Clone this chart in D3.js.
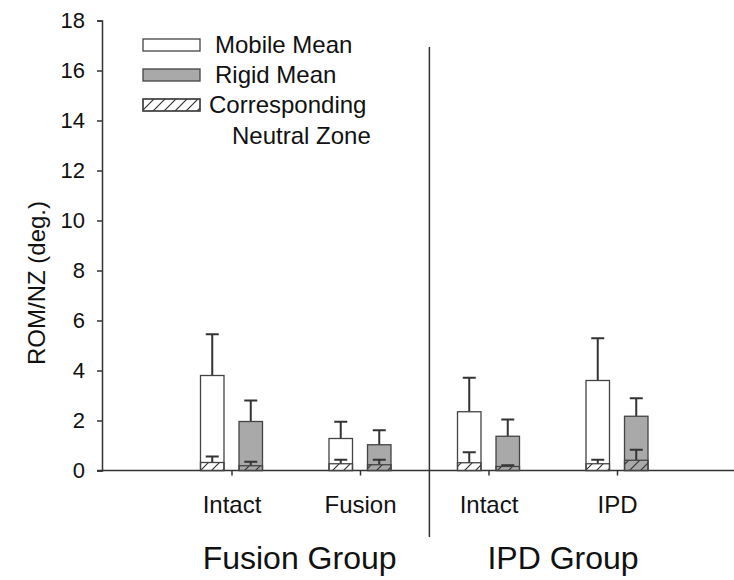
<!DOCTYPE html>
<html>
<head>
<meta charset="utf-8">
<script src="https://cdn.jsdelivr.net/npm/d3@7"></script>
<style>
  body { margin: 0; background: #fff; }
  text { font-family: "Liberation Sans", Arial, sans-serif; fill: #111; }
</style>
</head>
<body>
<svg width="734" height="580"></svg>
<script>
// Data
const categories = ["Intact", "Fusion", "Intact", "IPD"];
const groupNames = ["Fusion Group", "IPD Group"];
const mobileMean = [3.8, 1.28, 2.35, 3.6];
const mobileErr = [1.65, 0.67, 1.36, 1.69];
const rigidMean = [1.96, 1.03, 1.37, 2.17];
const rigidErr = [0.84, 0.58, 0.67, 0.72];
const mobileNZ = [0.32, 0.27, 0.31, 0.27];
const mobileNZErr = [0.24, 0.16, 0.42, 0.16];
const rigidNZ = [0.19, 0.23, 0.16, 0.41];
const rigidNZErr = [0.16, 0.2, 0.05, 0.42];
const yTicks = [0, 2, 4, 6, 8, 10, 12, 14, 16, 18];

const svg = d3.select("svg");

// Scales
const x = d3.scaleLinear().domain([0, 4]).range([103, 617]);
const y = d3.scaleLinear().domain([0, 18]).range([470.5, 20.5]);
const sub = d3.scaleBand().domain(["mobile", "rigid"]).range([-31, 31]).paddingInner(0.39);

const ink = "#333";

// hatch pattern for neutral zone
const defs = svg.append("defs");
const pat = defs.append("pattern")
  .attr("id", "hatch")
  .attr("patternUnits", "userSpaceOnUse")
  .attr("width", 11).attr("height", 11);
pat.append("path")
  .attr("d", "M-1,12 L12,-1 M-3,3 L3,-3 M8,14 L14,8")
  .attr("stroke", ink).attr("stroke-width", 1.2);

// Y axis
const yAxis = svg.append("g")
  .attr("transform", `translate(${x(0) - 1},0)`)
  .call(d3.axisLeft(y).tickValues(yTicks).tickSize(5).tickPadding(12));
yAxis.select(".domain").attr("stroke", ink).attr("stroke-width", 1.5);
yAxis.selectAll(".tick line").attr("stroke", ink).attr("stroke-width", 1.5);
yAxis.selectAll("text").style("font-size", "22px").attr("fill", "#111");

// X axis
const xAxis = svg.append("g")
  .attr("transform", `translate(0,${y(0)})`)
  .call(d3.axisBottom(x).tickValues([1, 2, 3, 4]).tickSize(5)
    .tickFormat(d => categories[d - 1]).tickPadding(20));
xAxis.select(".domain").attr("d", `M${x(0) - 6},0H734`)
  .attr("stroke", ink).attr("stroke-width", 1.5);
xAxis.selectAll(".tick line").attr("stroke", ink).attr("stroke-width", 1.5);
xAxis.selectAll("text").style("font-size", "24px").attr("fill", "#111");

// Divider line between groups
svg.append("line")
  .attr("x1", x(2.54)).attr("x2", x(2.54))
  .attr("y1", 47).attr("y2", 537)
  .attr("stroke", ink).attr("stroke-width", 1.5);

// Group labels
svg.selectAll(".group")
  .data(groupNames)
  .enter()
  .append("text")
  .attr("x", (d, i) => x(i === 0 ? 1.53 : 3.58))
  .attr("y", 569)
  .attr("text-anchor", "middle")
  .style("font-size", "32px")
  .text(d => d);

// Y label
svg.append("text")
  .attr("transform", `translate(45,283) rotate(-90)`)
  .attr("text-anchor", "middle")
  .style("font-size", "24px")
  .text("ROM/NZ (deg.)");

// Bars
const series = [
  { key: "mobile", mean: mobileMean, err: mobileErr, nz: mobileNZ, nzErr: mobileNZErr, fill: "#fff" },
  { key: "rigid", mean: rigidMean, err: rigidErr, nz: rigidNZ, nzErr: rigidNZErr, fill: "#a9a9a9" }
];

const capW = 13;

series.forEach(s => {
  const g = svg.append("g");
  categories.forEach((c, i) => {
    const x0 = x(i + 1) + sub(s.key);
    const w = sub.bandwidth();
    const cx = x0 + w / 2;

    // error bar on mean
    g.append("path")
      .attr("d", `M${cx},${y(s.mean[i])}V${y(s.mean[i] + s.err[i])}M${cx - capW / 2},${y(s.mean[i] + s.err[i])}h${capW}`)
      .attr("stroke", ink).attr("stroke-width", 2).attr("fill", "none");

    // mean bar
    g.append("rect")
      .attr("x", x0).attr("y", y(s.mean[i]))
      .attr("width", w).attr("height", y(0) - y(s.mean[i]))
      .attr("fill", s.fill).attr("stroke", "#444").attr("stroke-width", 1.3);

    // neutral zone error bar
    g.append("path")
      .attr("d", `M${cx},${y(s.nz[i])}V${y(s.nz[i] + s.nzErr[i])}M${cx - capW / 2},${y(s.nz[i] + s.nzErr[i])}h${capW}`)
      .attr("stroke", ink).attr("stroke-width", 2).attr("fill", "none");

    // neutral zone hatched
    g.append("rect")
      .attr("x", x0).attr("y", y(s.nz[i]))
      .attr("width", w).attr("height", y(0) - y(s.nz[i]))
      .attr("fill", "url(#hatch)").attr("stroke", "#444").attr("stroke-width", 1.3);
  });
});

// Legend
const legendItems = [
  { label: ["Mobile Mean"], fill: "#fff", hatch: false },
  { label: ["Rigid Mean"], fill: "#a9a9a9", hatch: false },
  { label: ["Corresponding", "Neutral Zone"], fill: "#fff", hatch: true }
];

const legend = svg.append("g").attr("transform", "translate(143,39)");
legendItems.forEach((d, i) => {
  const row = legend.append("g").attr("transform", `translate(0,${i * 30})`);
  row.append("rect")
    .attr("width", 57).attr("height", 12)
    .attr("fill", d.fill).attr("stroke", "#444").attr("stroke-width", 1.3);
  if (d.hatch) {
    row.append("rect")
      .attr("width", 57).attr("height", 12)
      .attr("fill", "url(#hatch)").attr("stroke", "#444").attr("stroke-width", 1.3);
  }
  d.label.forEach((t, j) => {
    row.append("text")
      .attr("x", j === 0 ? (d.hatch ? 66 : 72) : 89)
      .attr("y", 14 + j * 31)
      .style("font-size", "24px")
      .text(t);
  });
});
</script>
</body>
</html>
